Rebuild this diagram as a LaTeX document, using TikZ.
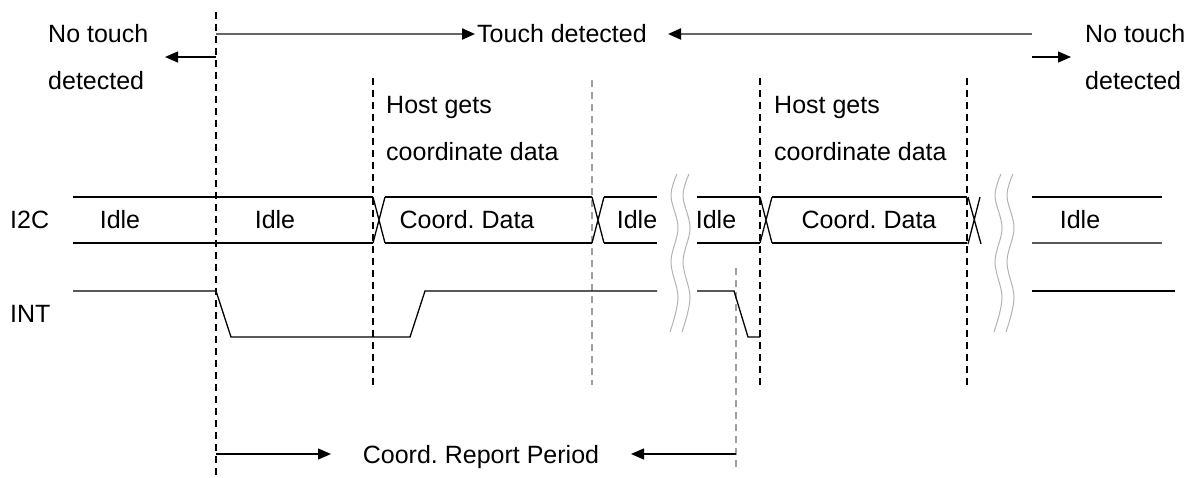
\documentclass[tikz,border=0pt]{standalone}
\usepackage{fontspec}
\setmainfont{Liberation Sans}
\usetikzlibrary{arrows.meta}
\begin{document}
\begin{tikzpicture}[x=1pt,y=-1pt,
  sig/.style={line width=1.3pt},
  vdash/.style={line width=1.3pt, dash pattern=on 7pt off 5pt},
  gdash/.style={vdash, draw=gray!75},
  lbl/.style={inner sep=0pt, anchor=base west, font=\fontsize{25}{30}\selectfont\frenchspacing},
  clbl/.style={lbl, anchor=base},
  arr/.style={line width=1.3pt, -{Triangle[length=13pt,width=11pt]}},
  garr/.style={line width=2.2pt, draw=gray!80!black, -{Triangle[length=13pt,width=11pt,color=black]}},
  brk/.style={draw=gray!60, line width=1pt}
]
\useasboundingbox (0,0) rectangle (1191,478);

% vertical dashed markers
\draw[vdash] (216,12) -- (216,478);
\draw[vdash] (373,78) -- (373,385);
\draw[gdash] (592,80) -- (592,385);
\draw[vdash] (760,78) -- (760,385);
\draw[vdash] (967,78) -- (967,385);
\draw[gdash] (736,268) -- (736,472);

% top labels
\node[lbl] (nt1) at (48,43) {No touch};
\node[lbl] (nd1) at (48,90) {detected};
\node[lbl] (touch) at (477,43) {Touch detected};
\node[lbl] (nt2) at (1085,43) {No touch};
\node[lbl] (nd2) at (1085,90) {detected};

\coordinate (ts) at (216,34);
\coordinate (te) at (475,34);
\coordinate (rs) at (1032,34);
\coordinate (re) at (668,34);
\coordinate (ls) at (216,57);
\coordinate (le) at (165,57);
\coordinate (ns) at (1032,57);
\coordinate (ne) at (1071,57);
\draw[garr] (ts) -- (te);
\draw[garr] (rs) -- (re);
\draw[arr] (ls) -- (le);
\draw[arr] (ns) -- (ne);

% host labels
\node[lbl] (h1a) at (386,114) {Host gets};
\node[lbl] (h1b) at (386,161) {coordinate data};
\node[lbl] (h2a) at (774,114) {Host gets};
\node[lbl] (h2b) at (774,161) {coordinate data};

% signal names
\node[lbl] (i2c) at (10,229) {I2C};
\node[lbl] (int) at (10,323) {INT};

% I2C bus
\draw[sig] (73,197) -- (373,197) (73,243) -- (373,243);
\draw[sig] (373,197) -- (385,243) (373,243) -- (385,197);
\draw[sig] (385,197) -- (592,197) (385,243) -- (592,243);
\draw[sig] (592,197) -- (604,243) (592,243) -- (604,197);
\draw[sig] (604,197) -- (657,197) (604,243) -- (657,243);
\draw[sig] (697,197) -- (760,197) (697,243) -- (760,243);
\draw[sig] (760,197) -- (772,243) (760,243) -- (772,197);
\draw[sig] (772,197) -- (967,197) (772,243) -- (967,243);
\draw[sig] (968,197) -- (981,244) (968,244) -- (980,197);
\draw[sig] (1032,197) -- (1162,197);
\draw[sig, draw=gray!70!black] (1032,243) -- (1162,243);

\node[clbl] (idle1) at (120,229) {Idle};
\node[clbl] (idle2) at (275,229) {Idle};
\node[clbl] (cd1) at (467,229) {Coord. Data};
\node[clbl] (idle3) at (637,229) {Idle};
\node[clbl] (idle4) at (716,229) {Idle};
\node[clbl] (cd2) at (869,229) {Coord. Data};
\node[clbl] (idle5) at (1080,229) {Idle};

% INT
\draw[sig] (73,291) -- (216,291) -- (231,337) -- (410,337) -- (425,291) -- (657,291);
\draw[sig] (697,291) -- (734,291) -- (748,337) -- (760,337);
\draw[sig] (1032,291) -- (1175,291);

% break marks
\foreach \dx in {0,12,324,336}{
  \draw[brk, xshift=\dx pt] plot[smooth, tension=0.6] coordinates
   {(677,174) (671,196) (678,228) (671,262) (678,298) (670,332)};
}

% bottom period
\node[clbl] (crp) at (481,463) {Coord. Report Period};
\coordinate (bs) at (216,454);
\coordinate (be) at (331,454);
\coordinate (cs) at (736,454);
\coordinate (ce) at (631,454);
\draw[arr] (bs) -- (be);
\draw[arr] (cs) -- (ce);
\end{tikzpicture}
\end{document}
